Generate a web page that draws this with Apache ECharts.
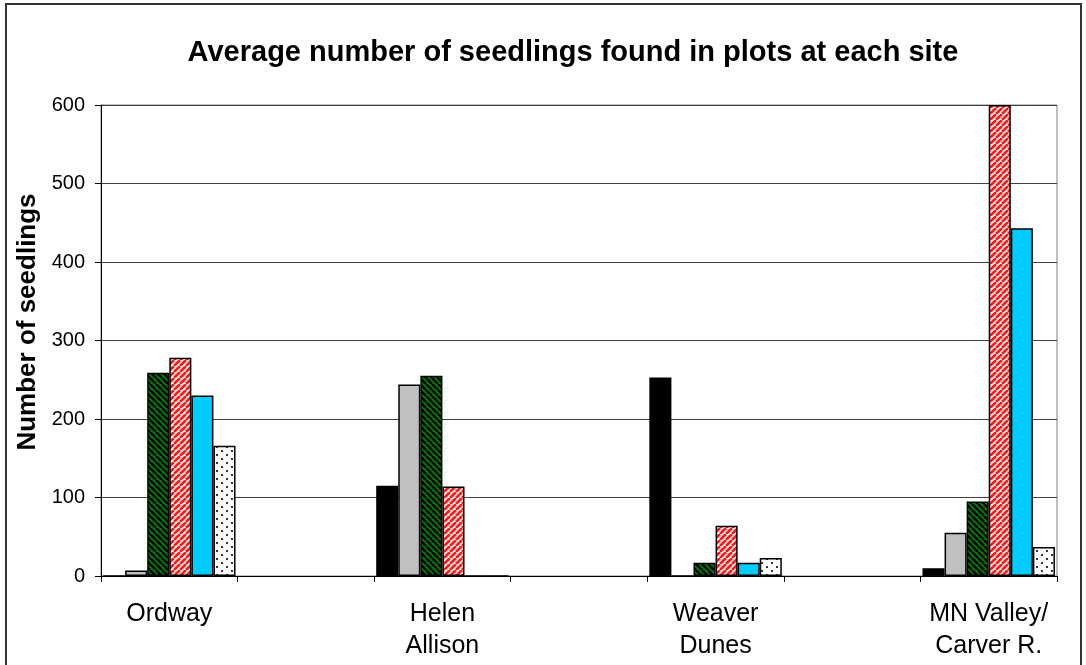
<!DOCTYPE html>
<html>
<head>
<meta charset="utf-8">
<script src="https://cdn.jsdelivr.net/npm/echarts@6/dist/echarts.min.js"></script>
<style>
html,body{margin:0;padding:0;background:#fff;}
#chart{width:1086px;height:665px;}
</style>
</head>
<body>
<div id="chart"></div>
<script>
// ---- data ----
const chartTitle = 'Average number of seedlings found in plots at each site';
const yAxisTitle = 'Number of seedlings';
const categories = ['Ordway', '', 'Helen\nAllison', '', 'Weaver\nDunes', '', 'MN Valley/\nCarver R.'];
const seriesNames = ['Series 1', 'Series 2', 'Series 3', 'Series 4', 'Series 5', 'Series 6'];
const blackValues  = [0,   null, 115, null, 253, null, 10];
const grayValues   = [7,   null, 244, null, 0,   null, 55];
const greenValues  = [259, null, 255, null, 17,  null, 95];
const redValues    = [278, null, 114, null, 64,  null, 600];
const cyanValues   = [230, null, 0,   null, 17,  null, 443];
const dottedValues = [166, null, 0,   null, 23,  null, 37];
const yTicks = [0, 100, 200, 300, 400, 500, 600];

// ---- patterns ----
function hatch(bg, fg, dir, size, lw) {
  const c = document.createElement('canvas');
  c.width = size; c.height = size;
  const ctx = c.getContext('2d');
  ctx.fillStyle = bg; ctx.fillRect(0, 0, size, size);
  ctx.strokeStyle = fg; ctx.lineWidth = lw;
  ctx.beginPath();
  for (let k = -1; k <= 1; k++) {
    if (dir === 'down') { ctx.moveTo(k * size, 0); ctx.lineTo(k * size + size, size); }
    else { ctx.moveTo(k * size, size); ctx.lineTo(k * size + size, 0); }
  }
  ctx.stroke();
  return c;
}
function dots() {
  const c = document.createElement('canvas');
  c.width = 10; c.height = 8;
  const ctx = c.getContext('2d');
  ctx.fillStyle = '#fff'; ctx.fillRect(0, 0, 10, 8);
  ctx.fillStyle = '#333';
  ctx.fillRect(1, 2, 2, 2);
  ctx.fillRect(6, 6, 2, 2);
  return c;
}
const greenPattern = { image: hatch('#008000', '#000', 'down', 6, 2.6), repeat: 'repeat' };
const redPattern = { image: hatch('#ffffff', '#ff1a1a', 'up', 6, 2.8), repeat: 'repeat' };
const dotPattern = { image: dots(), repeat: 'repeat' };

const fills = ['#000000', '#c0c0c0', greenPattern, redPattern, '#00ccff', dotPattern];
const valueSets = [blackValues, grayValues, greenValues, redValues, cyanValues, dottedValues];

const font = "'Liberation Sans', Arial, sans-serif";
const chart = echarts.init(document.getElementById('chart'), null, { renderer: 'canvas' });

chart.setOption({
  backgroundColor: '#fff',
  animation: false,
  title: {
    text: chartTitle,
    left: 573,
    top: 38,
    padding: 0,
    textAlign: 'center',
    textStyle: { fontFamily: font, fontWeight: 'bold', fontSize: 29, color: '#000' }
  },
  grid: {
    left: 101, right: 29, top: 105, bottom: 89,
    show: true, borderColor: '#808080', borderWidth: 1, backgroundColor: 'transparent'
  },
  xAxis: {
    type: 'category',
    data: categories,
    axisLine: { lineStyle: { color: '#000', width: 1 } },
    axisTick: { show: true, length: 6, interval: 0, lineStyle: { color: '#000' } },
    axisLabel: {
      interval: 0, margin: 22, color: '#000',
      fontFamily: font, fontSize: 25, lineHeight: 32
    },
    splitLine: { show: false }
  },
  yAxis: {
    type: 'value',
    min: yTicks[0], max: yTicks[yTicks.length - 1], interval: 100,
    axisLine: { show: true, lineStyle: { color: '#000', width: 1 } },
    axisTick: { show: true, length: 6, lineStyle: { color: '#000' } },
    axisLabel: { margin: 16, color: '#000', fontFamily: font, fontSize: 20 },
    splitLine: { show: true, lineStyle: { color: '#404040', width: 1 } }
  },
  graphic: [
    {
      type: 'rect', silent: true, z: 100,
      shape: { x: 6, y: 4, width: 1075, height: 720 },
      style: { fill: 'none', stroke: '#333', lineWidth: 2 }
    },
    {
      type: 'text', silent: true,
      x: 28, y: 322, rotation: Math.PI / 2,
      style: {
        text: yAxisTitle, fill: '#000',
        font: "bold 26px 'Liberation Sans', Arial, sans-serif",
        align: 'center', verticalAlign: 'middle'
      }
    }
  ],
  series: valueSets.map((vals, i) => ({
    name: seriesNames[i],
    type: 'bar',
    data: vals,
    barGap: '0%',
    barCategoryGap: '3%',
    itemStyle: { color: fills[i], borderColor: '#000', borderWidth: 1.5 },
    emphasis: { disabled: true }
  }))
});
</script>
</body>
</html>
